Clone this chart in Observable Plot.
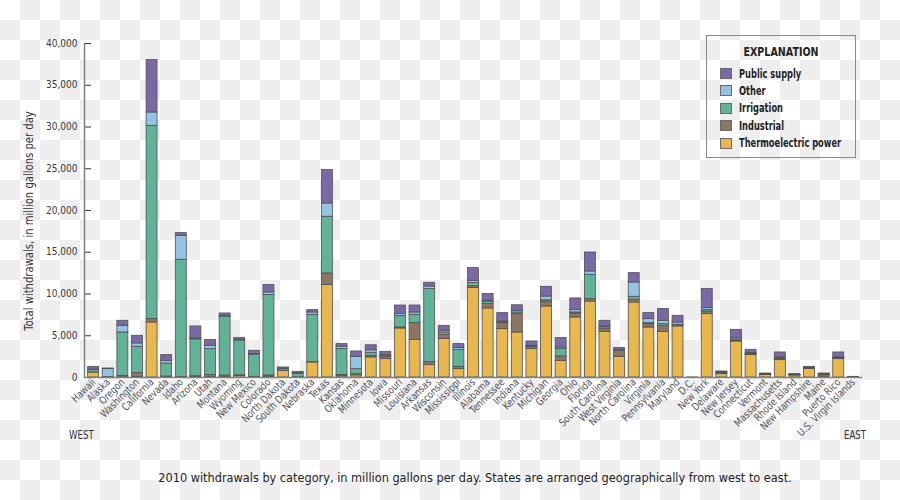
<!DOCTYPE html>
<html><head><meta charset="utf-8">
<script src="https://cdn.jsdelivr.net/npm/d3@7"></script>
<script src="https://cdn.jsdelivr.net/npm/@observablehq/plot@0.6"></script>
<style>
html,body{margin:0;padding:0;}
body{width:900px;height:500px;overflow:hidden;position:relative;
 background-color:#fff;
 background-image:linear-gradient(45deg,#eeeeee 25%,transparent 25%,transparent 75%,#eeeeee 75%),linear-gradient(45deg,#eeeeee 25%,transparent 25%,transparent 75%,#eeeeee 75%);
 background-size:40px 40px;background-position:0 0,20px 20px;
 font-family:'DejaVu Sans Condensed','DejaVu Sans',sans-serif;}
#chart{position:absolute;left:0;top:0;}
#legend{position:absolute;left:706px;top:35px;width:148px;height:121px;border:1.5px solid #8a8a8a;}
#legend .lt{position:absolute;left:0;width:100%;top:8px;text-align:center;font-weight:bold;font-size:12.5px;color:#222;transform:scaleX(0.85);}
#legend .it{position:absolute;left:13px;height:14px;font-weight:bold;font-size:11.5px;color:#222;line-height:14px;white-space:nowrap;}
#legend .sw{display:inline-block;width:12px;height:11px;border:1px solid #6a6a6a;vertical-align:middle;margin-right:7px;box-sizing:border-box;}
#legend .tx{display:inline-block;vertical-align:middle;transform:scaleX(0.8);transform-origin:left center;}
#ytitle{position:absolute;left:29px;top:221px;transform:translate(-50%,-50%) rotate(-90deg) scaleX(0.93);white-space:nowrap;font-size:12px;color:#333;}
.dir{position:absolute;top:428px;font-size:12px;color:#333;transform:scaleX(0.8);transform-origin:left top;}
#caption{position:absolute;left:0;width:950px;top:470px;text-align:center;font-size:12.6px;color:#222;white-space:nowrap;}
</style></head>
<body>
<div id="chart"></div>
<div id="ytitle">Total withdrawals, in million gallons per day</div>
<div class="dir" style="left:69px">WEST</div>
<div class="dir" style="left:844px">EAST</div>
<div id="legend"><div class="lt">EXPLANATION</div></div>
<div id="caption">2010 withdrawals by category, in million gallons per day. States are arranged geographically from west to east.</div>
<script>
const states = ["Hawaii","Alaska","Oregon","Washington","California","Nevada","Idaho","Arizona","Utah","Montana","Wyoming","New Mexico","Colorado","North Dakota","South Dakota","Nebraska","Texas","Kansas","Oklahoma","Minnesota","Iowa","Missouri","Louisiana","Arkansas","Wisconsin","Mississippi","Illinois","Alabama","Tennessee","Indiana","Kentucky","Michigan","Georgia","Ohio","Florida","South Carolina","West Virginia","North Carolina","Virginia","Pennsylvania","Maryland","D.C.","New York","Delaware","New Jersey","Connecticut","Vermont","Massachusetts","Rhode Island","New Hampshire","Maine","Puerto Rico","U.S. Virgin Islands"];

const thermo      = [600,30,20,50,6590,60,0,80,60,70,200,60,100,800,20,1800,11100,150,250,2400,2200,5870,4480,1520,4600,1000,10710,8270,5790,5390,3400,8500,2000,7190,9100,5470,2480,8990,5990,5470,6110,0,7590,400,4310,2680,320,2080,240,1040,120,2200,60];
const industrial  = [20,20,180,480,400,60,60,70,230,160,60,20,150,20,10,40,1360,150,150,180,250,120,2030,320,510,280,220,520,720,2200,250,600,520,480,290,400,720,320,400,720,160,0,300,60,100,80,40,120,30,60,240,20,0];
const irrigation  = [280,0,5190,3150,23150,1560,14040,4420,3110,7040,4180,2660,9620,200,380,5670,6790,3100,600,380,100,1360,1000,8750,280,2000,400,300,80,200,50,150,880,120,2910,200,0,360,120,200,50,0,180,130,150,60,20,150,20,20,20,100,0];
const other       = [40,950,800,400,1600,320,2870,100,400,80,60,60,320,30,100,280,1590,280,1480,300,130,240,280,310,200,240,250,100,120,200,100,450,190,280,400,40,80,1710,480,400,270,0,240,30,160,100,20,50,20,30,20,80,0];
const publicSupply= [340,80,600,920,6270,680,320,1440,680,320,220,400,880,150,170,280,4000,320,640,600,400,1030,830,440,600,480,1520,800,1000,660,510,1160,1130,1400,2270,680,240,1120,720,1400,800,10,2280,100,990,400,80,600,110,130,80,600,20];

const categories = ["Thermoelectric power","Industrial","Irrigation","Other","Public supply"];
const colors = ["#e8b84e","#8c7563","#62b29a","#93c3e5","#7b69a6"];
const yTicks = [0,5000,10000,15000,20000,25000,30000,35000,40000];

const series = [thermo, industrial, irrigation, other, publicSupply];
const rows = [];
states.forEach((s, i) => series.forEach((arr, k) => rows.push({state: s, category: categories[k], value: arr[i]})));

const chart = Plot.plot({
  width: 900, height: 500,
  marginLeft: 84, marginRight: 38, marginTop: 43, marginBottom: 123,
  style: {fontFamily: "'DejaVu Sans Condensed','DejaVu Sans',sans-serif", fontSize: "11px", background: "transparent", overflow: "visible"},
  x: {type: "band", domain: states, padding: 0.25, label: null},
  y: {domain: [0, 40000], label: null},
  color: {domain: categories, range: colors},
  marks: [
    Plot.barY(rows, {x: "state", y: "value", fill: "category", order: categories, stroke: "#505050", strokeWidth: 0.8}),
    Plot.axisY({ticks: yTicks, tickFormat: d3.format(","), tickSize: -7, tickPadding: 14, color: "#3a3a3a", fontSize: 10, label: null}),
    Plot.axisX({tickRotate: -45, tickSize: 0, tickPadding: 3, color: "#555560", fontSize: 10.5, label: null}),
    Plot.ruleY([0], {stroke: "#808080", strokeWidth: 1.5}),
    Plot.frame({anchor: "left", stroke: "#808080", strokeWidth: 1.5})
  ]
});
document.getElementById("chart").appendChild(chart);

// condense the x tick labels slightly to approximate the narrow typeface of the original
chart.querySelectorAll("g[aria-label='x-axis tick label'] text").forEach(t => {
  const L = t.getComputedTextLength();
  t.setAttribute("textLength", (L * 0.9).toFixed(1));
  t.setAttribute("lengthAdjust", "spacingAndGlyphs");
});

const legend = document.getElementById("legend");
const itemTops = [30, 47, 64.5, 82, 99.5];
categories.slice().reverse().forEach((c, j) => {
  const k = categories.indexOf(c);
  const d = document.createElement("div");
  d.className = "it";
  d.style.top = itemTops[j] + "px";
  d.innerHTML = `<span class="sw" style="background:${colors[k]}"></span><span class="tx">${c}</span>`;
  legend.appendChild(d);
});
</script>
</body></html>
